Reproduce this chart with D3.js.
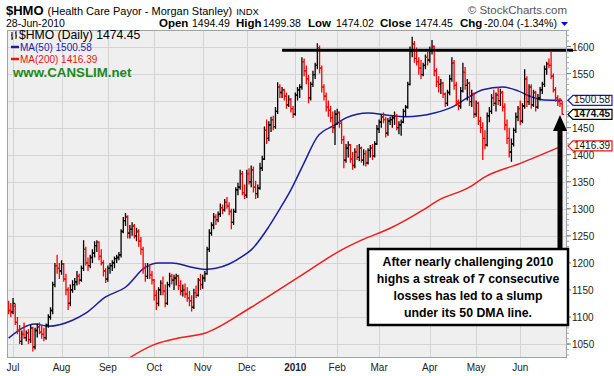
<!DOCTYPE html>
<html><head><meta charset="utf-8">
<script src="https://cdn.jsdelivr.net/npm/d3@7"></script>
<style>body{margin:0;background:#fff}svg{display:block}text{font-family:"Liberation Sans",Arial,sans-serif}</style>
</head><body><svg id="c" width="614" height="376"></svg>
<script>
// ---------------- DATA ----------------
const symbol = "$HMO";
const titleName = "(Health Care Payor - Morgan Stanley)";
const exchange = "INDX";
const lastDate = "28-Jun-2010";
const quoteLabels = ["Open","High","Low","Close","Chg"];
const quoteValues = ["1494.49","1499.38","1474.02","1474.45","-20.04 (-1.34%)"];
const firstDay = "2009-06-29", lastDay = "2010-06-28";
const holidays = ["2009-07-03","2009-09-07","2009-11-26","2009-12-25","2010-01-01","2010-01-18","2010-02-15","2010-04-02","2010-05-31"];
const opens = [1125,1112,1110,1120,1090,1075,1055,1068,1062,1070,1058,1080,1045,1075,1082,1072,1068,1062,1085,1100,1112,1160,1195,1190,1185,1198,1170,1150,1125,1150,1160,1165,1175,1168,1190,1225,1200,1195,1210,1218,1232,1238,1212,1200,1185,1170,1190,1195,1200,1208,1210,1215,1258,1278,1285,1255,1262,1268,1250,1258,1240,1225,1190,1175,1195,1178,1168,1140,1125,1150,1162,1148,1125,1160,1175,1168,1172,1176,1158,1148,1150,1142,1135,1130,1118,1145,1140,1168,1160,1172,1180,1225,1255,1270,1285,1280,1290,1302,1298,1312,1305,1295,1275,1295,1335,1340,1365,1330,1325,1365,1350,1372,1340,1328,1338,1375,1392,1445,1430,1455,1465,1452,1480,1525,1515,1520,1508,1492,1502,1485,1475,1510,1520,1525,1572,1555,1540,1505,1530,1548,1565,1598,1560,1525,1508,1488,1482,1468,1450,1475,1478,1458,1428,1390,1412,1418,1392,1380,1405,1395,1412,1390,1402,1385,1408,1412,1398,1420,1448,1460,1470,1465,1440,1462,1465,1468,1472,1450,1455,1460,1480,1488,1530,1592,1605,1578,1572,1560,1548,1565,1580,1575,1592,1600,1555,1535,1530,1532,1512,1495,1515,1540,1570,1528,1498,1490,1518,1552,1528,1532,1498,1512,1475,1495,1462,1450,1430,1418,1472,1480,1505,1495,1510,1500,1515,1488,1455,1430,1405,1420,1445,1470,1485,1462,1490,1540,1498,1525,1492,1515,1488,1505,1520,1530,1558,1568,1565,1545,1520,1505,1498,1494.49];
const highs = [1130,1126,1135,1125,1100,1085,1075,1090,1075,1078,1085,1082,1080,1088,1090,1085,1080,1088,1105,1118,1165,1200,1215,1200,1205,1200,1180,1155,1160,1168,1172,1185,1180,1195,1242,1230,1210,1215,1225,1240,1242,1240,1225,1205,1190,1195,1200,1205,1212,1215,1220,1262,1285,1292,1288,1270,1275,1272,1265,1262,1248,1230,1200,1200,1198,1185,1170,1150,1155,1168,1175,1160,1165,1182,1180,1178,1180,1178,1168,1160,1162,1155,1148,1140,1152,1158,1172,1180,1178,1185,1230,1262,1275,1292,1290,1295,1310,1308,1318,1322,1312,1300,1300,1340,1348,1372,1370,1345,1372,1375,1380,1378,1352,1345,1385,1398,1452,1465,1462,1470,1472,1488,1534,1530,1525,1522,1515,1510,1505,1490,1515,1525,1530,1580,1578,1565,1548,1535,1555,1570,1606,1602,1565,1530,1515,1500,1490,1480,1482,1485,1480,1462,1435,1420,1425,1420,1405,1412,1418,1420,1415,1410,1408,1412,1418,1420,1425,1455,1465,1475,1478,1470,1468,1470,1472,1480,1475,1462,1465,1485,1492,1535,1600,1618,1610,1598,1580,1575,1570,1585,1590,1600,1612,1602,1560,1545,1540,1535,1515,1520,1548,1580,1575,1535,1502,1525,1570,1562,1540,1535,1520,1515,1500,1498,1470,1460,1445,1478,1488,1512,1520,1515,1525,1522,1518,1495,1465,1450,1430,1450,1478,1490,1500,1495,1558,1545,1530,1530,1520,1518,1512,1525,1535,1565,1572,1578,1590,1550,1525,1510,1505,1499.38];
const lows = [1105,1100,1105,1085,1068,1050,1048,1060,1055,1050,1052,1036,1040,1062,1068,1060,1055,1058,1080,1095,1105,1155,1180,1170,1178,1165,1140,1113,1120,1145,1150,1158,1160,1165,1185,1195,1185,1190,1200,1210,1220,1205,1195,1175,1163,1165,1180,1185,1190,1200,1205,1210,1255,1268,1245,1245,1250,1245,1240,1230,1215,1180,1165,1170,1170,1160,1130,1113,1120,1140,1140,1118,1122,1155,1160,1150,1158,1150,1140,1138,1135,1128,1120,1110,1115,1135,1138,1150,1152,1165,1178,1220,1250,1262,1270,1275,1285,1290,1295,1300,1288,1262,1270,1292,1325,1335,1325,1318,1320,1345,1340,1330,1318,1320,1335,1370,1390,1420,1425,1442,1445,1448,1475,1505,1505,1500,1485,1488,1478,1468,1472,1500,1505,1520,1545,1530,1495,1500,1525,1540,1558,1550,1515,1500,1480,1470,1460,1440,1418,1455,1450,1420,1375,1385,1395,1385,1372,1375,1390,1388,1385,1380,1378,1382,1395,1390,1395,1418,1440,1450,1458,1432,1435,1455,1450,1455,1445,1438,1435,1458,1470,1485,1528,1580,1570,1565,1548,1540,1545,1558,1565,1570,1585,1545,1525,1515,1512,1505,1488,1490,1510,1535,1520,1490,1482,1485,1515,1520,1500,1490,1488,1468,1470,1455,1440,1390,1410,1415,1460,1475,1490,1480,1492,1490,1480,1445,1420,1395,1387,1415,1440,1462,1455,1458,1485,1488,1492,1485,1488,1480,1485,1500,1512,1525,1548,1560,1540,1515,1498,1490,1488,1474.02];
const closes = [1112,1108,1125,1090,1075,1055,1068,1062,1070,1058,1080,1045,1075,1082,1072,1068,1062,1085,1100,1112,1160,1195,1190,1185,1198,1170,1150,1125,1150,1160,1165,1175,1168,1190,1225,1200,1195,1210,1218,1232,1238,1212,1200,1185,1170,1190,1195,1200,1208,1210,1215,1258,1278,1285,1255,1262,1268,1250,1258,1240,1225,1190,1175,1195,1178,1168,1140,1125,1150,1162,1148,1125,1160,1175,1168,1172,1176,1158,1148,1150,1142,1135,1130,1118,1145,1140,1168,1160,1172,1180,1225,1255,1270,1285,1280,1290,1302,1298,1312,1305,1295,1275,1295,1335,1340,1365,1330,1325,1365,1350,1372,1340,1328,1338,1375,1392,1445,1430,1455,1465,1452,1480,1525,1515,1520,1508,1492,1502,1485,1475,1510,1520,1525,1572,1555,1540,1505,1530,1548,1565,1598,1560,1525,1508,1488,1482,1468,1450,1475,1478,1458,1428,1390,1412,1418,1392,1380,1405,1395,1412,1390,1402,1385,1408,1412,1398,1420,1448,1460,1470,1465,1440,1462,1465,1468,1472,1450,1455,1460,1480,1488,1530,1592,1605,1578,1572,1560,1548,1565,1580,1575,1592,1600,1555,1535,1530,1532,1512,1495,1515,1540,1570,1528,1498,1490,1518,1552,1528,1532,1498,1512,1475,1495,1462,1450,1430,1418,1472,1480,1505,1495,1510,1500,1515,1488,1455,1430,1405,1420,1445,1470,1485,1462,1490,1540,1498,1525,1492,1515,1488,1505,1520,1530,1558,1568,1565,1545,1520,1505,1498,1494.49,1474.45];
// moving averages, read at sample bars (bar index, value)
const ma50Idx = [0,12,18,29,35,44,53,62,68,74,83,89,94,100,106,110,118,123,128,134,140,148,153,163,172,180,193,201,208,215,224,231,237,243,251];
const ma50Val = [1061,1087,1083,1094,1107,1137,1155,1192,1200,1200,1192,1188,1190,1198,1212,1224,1267,1300,1335,1385,1433,1455,1468,1477,1473,1470,1477,1488,1505,1520,1525,1518,1507,1501,1500.58];
const ma200Idx = [50,66,77,89,110,132,151,160,173,188,195,209,216,232,251];
const ma200Val = [1012,1049,1061,1070,1118,1175,1224,1242,1264,1298,1316,1340,1359,1384,1416.39];
const ma50Last = "1500.58", ma200Last = "1416.39", closeLast = "1474.45";
const yTicks = [1050,1100,1150,1200,1250,1300,1350,1400,1450,1500,1550,1600];
const resistanceLevel = 1593, resistanceFrom = "2009-12-23";
const noteLines = ["After nearly challenging 2010","highs a streak of 7 consecutive","losses has led to a slump","under its 50 DMA line."];
const watermark = "www.CANSLIM.net";

// ---------------- LAYOUT ----------------
const svg = d3.select("#c");
const P = {l:7, r:567, t:30, b:358};
const fmt = d3.timeFormat("%Y-%m-%d");
const hol = new Set(holidays);
const parse = d3.timeParse("%Y-%m-%d");
const dates = d3.timeDay.range(parse(firstDay), d3.timeDay.offset(parse(lastDay),1))
  .filter(d => d.getDay()!==0 && d.getDay()!==6 && !hol.has(fmt(d)));
const n = dates.length;
const x = d3.scaleLinear().domain([-0.73, 253.2]).range([P.l, P.r]);
const y = d3.scaleLinear().domain([1024.2, 1630.5]).range([P.b, P.t]);

// plot background
svg.append("rect").attr("x",P.l).attr("y",P.t).attr("width",P.r-P.l).attr("height",P.b-P.t).attr("fill","#efefef");

// month ticks (first trading day of each month)
const mIdx = dates.map((d,i)=>i).filter(i => i>0 && dates[i].getMonth()!==dates[i-1].getMonth());
const grid = svg.append("g");
grid.selectAll("line.v").data(mIdx).join("line")
  .attr("x1",i=>Math.round(x(i))+0.5).attr("x2",i=>Math.round(x(i))+0.5)
  .attr("y1",P.t).attr("y2",P.b).attr("stroke","#d4d4d4").attr("stroke-width",1);
grid.selectAll("line.h").data(yTicks).join("line")
  .attr("x1",P.l).attr("x2",P.r).attr("y1",v=>Math.round(y(v))+0.5).attr("y2",v=>Math.round(y(v))+0.5)
  .attr("stroke","#d4d4d4").attr("stroke-width",1);

// clip
svg.append("clipPath").attr("id","pc").append("rect").attr("x",P.l).attr("y",P.t).attr("width",P.r-P.l).attr("height",P.b-P.t);
const plot = svg.append("g").attr("clip-path","url(#pc)");

// MA lines
const line = d3.line().x(d=>x(d[0])).y(d=>y(d[1])).curve(d3.curveMonotoneX);
plot.append("path").attr("d", line(ma200Idx.map((i,k)=>[i,ma200Val[k]]))).attr("fill","none").attr("stroke","#ee1c1c").attr("stroke-width",1.5);
plot.append("path").attr("d", line(ma50Idx.map((i,k)=>[i,ma50Val[k]]))).attr("fill","none").attr("stroke","#1c1c9c").attr("stroke-width",1.5);

// OHLC bars
const bars = plot.append("g");
for (let i=0;i<n;i++){
  const up = i===0 ? closes[i]>=opens[i] : closes[i]>=closes[i-1];
  const col = up ? "#000" : "#f00";
  const xi = x(i);
  const p = `M${xi},${y(highs[i])}V${y(lows[i])}M${xi-2},${y(opens[i])}H${xi}M${xi},${y(closes[i])}H${xi+2}`;
  bars.append("path").attr("d",p).attr("stroke",col).attr("stroke-width",1.3).attr("fill","none");
}

// resistance line
const ri = dates.findIndex(d=>fmt(d)===resistanceFrom);
svg.append("line").attr("x1",x(ri)).attr("x2",P.r+6).attr("y1",y(resistanceLevel)).attr("y2",y(resistanceLevel))
  .attr("stroke","#000").attr("stroke-width",3);

// plot border
svg.append("rect").attr("x",P.l+0.5).attr("y",P.t+0.5).attr("width",P.r-P.l-1).attr("height",P.b-P.t-1)
  .attr("fill","none").attr("stroke","#9aa6a6").attr("stroke-width",1);

// right axis
const tagVals = [+ma50Last, +ma200Last, +closeLast];
const ax = svg.append("g");
const minor = d3.range(1030, 1631, 10);
ax.selectAll("line.mi").data(minor).join("line").attr("x1",P.r).attr("x2",P.r+2)
  .attr("y1",v=>y(v)).attr("y2",v=>y(v)).attr("stroke","#9aa6a6");
ax.selectAll("line.ma").data(yTicks).join("line").attr("x1",P.r).attr("x2",P.r+4)
  .attr("y1",v=>y(v)).attr("y2",v=>y(v)).attr("stroke","#777");
ax.selectAll("text").data(yTicks.filter(v => tagVals.every(t => Math.abs(y(v)-y(t)) > 8))).join("text")
  .attr("x",P.r+5).attr("y",v=>y(v)+4)
  .attr("font-size","10px").attr("fill","#222").text(v=>v);

// x axis labels
svg.append("g").selectAll("text").data(mIdx).join("text")
  .attr("x",i=>x(i)).attr("y",371).attr("text-anchor","middle").attr("font-size","10px")
  .attr("font-weight",i=>dates[i].getMonth()===0?"bold":"normal").attr("fill","#222")
  .text(i=>dates[i].getMonth()===0 ? d3.timeFormat("%Y")(dates[i]) : d3.timeFormat("%b")(dates[i]));

// value tags on right
function tag(v, label, stroke, bold){
  const yy = y(v), x0 = P.r+1, x1 = 612;
  const g = svg.append("g");
  g.append("path").attr("d",`M${x0},${yy}L${x0+5},${yy-5}H${x1}V${yy+5}H${x0+5}Z`)
    .attr("fill","#fff").attr("stroke",stroke).attr("stroke-width",1.2);
  g.append("text").attr("x",x0+6).attr("y",yy+3).attr("font-size","10px").attr("fill","#111")
    .attr("font-weight",bold?"bold":"normal").text(label);
}
tag(+ma200Last, ma200Last, "#e11", false);
tag(+ma50Last, ma50Last, "#1c1cbc", false);
tag(+closeLast, closeLast, "#000", true);

// arrow
const ax0 = 560;
svg.append("rect").attr("x",ax0-2.5).attr("y",128).attr("width",5).attr("height",122).attr("fill","#000");
svg.append("path").attr("d",`M${ax0},115L${ax0+7},131H${ax0-7}Z`).attr("fill","#000");

// note box
svg.append("rect").attr("x",368).attr("y",249).attr("width",200).attr("height",76)
  .attr("fill","#fff").attr("stroke","#000").attr("stroke-width",2.5);
svg.append("g").selectAll("text").data(noteLines).join("text")
  .attr("x",468).attr("y",(d,k)=>266+k*17).attr("text-anchor","middle")
  .attr("font-size","12.3px").attr("font-weight","bold").attr("fill","#000").text(d=>d);

// header
const h = svg.append("text").attr("x",6).attr("y",15).attr("fill","#000");
h.append("tspan").attr("font-size","13px").attr("font-weight","bold").text(symbol);
h.append("tspan").attr("font-size","11px").attr("dx",4).text(titleName);
h.append("tspan").attr("font-size","9.5px").attr("dx",4).text(exchange);
svg.append("text").attr("x",6).attr("y",27).attr("font-size","10.5px").text(lastDate);
const qx = [159,236,308,380,460], vx = [192,263,336,415,484];
quoteLabels.forEach((l,k)=>{
  svg.append("text").attr("x",qx[k]).attr("y",27).attr("font-size","11.5px").attr("font-weight","bold").text(l);
  svg.append("text").attr("x",vx[k]).attr("y",27).attr("font-size","10.5px").text(quoteValues[k]);
});
svg.append("path").attr("d","M561,22H568L564.5,26Z").attr("fill","#00f");
svg.append("text").attr("x",567).attr("y",14).attr("text-anchor","end").attr("font-size","11.5px").attr("fill","#555").text("\u00A9 StockCharts.com");

// legend
const lg = svg.append("g");
lg.append("path").attr("d","M12,32V40M11,35H12M12,38H13M16,31V39M15,33H16M16,36H17").attr("stroke","#000").attr("stroke-width",1);
lg.append("text").attr("x",19).attr("y",39).attr("font-family","DejaVu Sans").attr("font-size","12.2px").text(`${symbol} (Daily) ${closeLast}`);
lg.append("line").attr("x1",11).attr("x2",19).attr("y1",47).attr("y2",47).attr("stroke","#1c1c9c").attr("stroke-width",2.5);
lg.append("text").attr("x",20).attr("y",51).attr("font-size","10px").attr("fill","#1c1cac").text(`MA(50) ${ma50Last}`);
lg.append("line").attr("x1",11).attr("x2",19).attr("y1",59).attr("y2",59).attr("stroke","#e11").attr("stroke-width",2.5);
lg.append("text").attr("x",20).attr("y",63).attr("font-size","10px").attr("fill","#e11").text(`MA(200) ${ma200Last}`);
lg.append("text").attr("x",13).attr("y",77).attr("font-size","13.3px").attr("font-weight","bold").attr("fill","#1a8a1a").text(watermark);
</script></body></html>
